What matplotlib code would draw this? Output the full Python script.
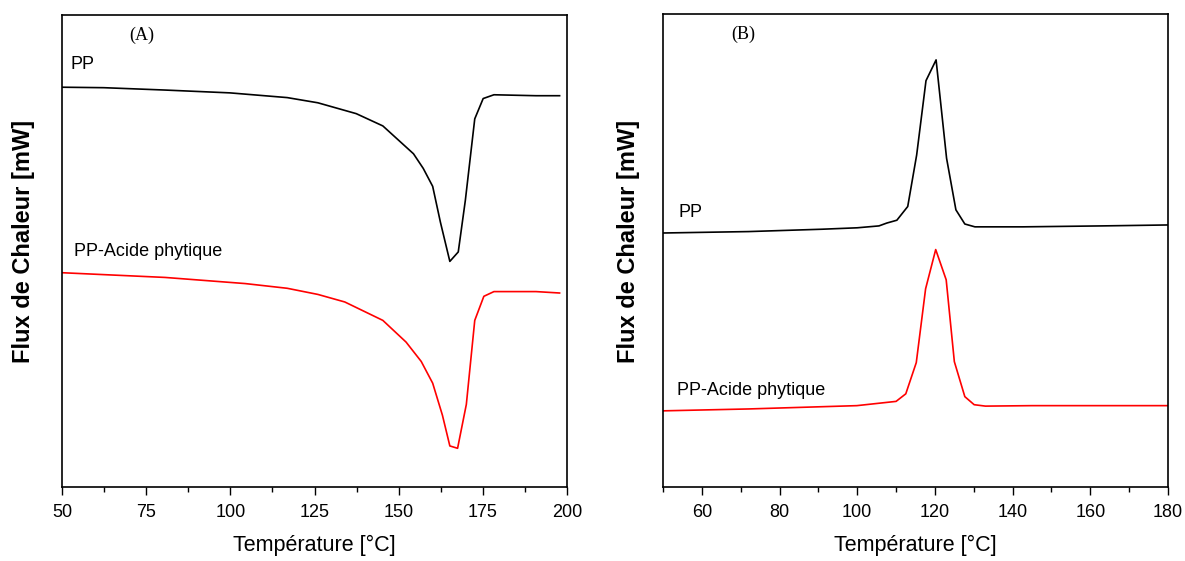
import matplotlib.pyplot as plt
from matplotlib.ticker import MultipleLocator

# (A) melting curves, arbitrary heat flow units
temp_a_pp = [50, 62.4, 80.6, 99.9, 116.9, 126, 137.4, 145.3, 154.4, 157.3, 160.1,
             162.4, 165.2, 167.7, 169.8, 172.6, 175.1, 178.3, 190.8, 197.8]
flux_a_pp = [8.47, 8.46, 8.41, 8.35, 8.25, 8.14, 7.91, 7.65, 7.06, 6.75, 6.37,
             5.61, 4.78, 4.98, 6.07, 7.80, 8.23, 8.31, 8.29, 8.29]
temp_a_pa = [50, 80.6, 104.4, 116.9, 126, 134, 145.3, 152.2, 156.7, 160.1, 163,
             165.2, 167.5, 170.1, 172.6, 175.3, 178.3, 190.8, 197.8]
flux_a_pa = [4.54, 4.44, 4.31, 4.21, 4.08, 3.92, 3.53, 3.07, 2.66, 2.20, 1.52,
             0.87, 0.82, 1.75, 3.53, 4.04, 4.14, 4.14, 4.11]

# (B) crystallisation curves
temp_b_pp = [50, 72, 91, 100, 105.6, 107.6, 110.2, 113, 115.3, 117.7, 120.3,
             123, 125.4, 127.7, 130.3, 142.6, 163, 180]
flux_b_pp = [5.37, 5.40, 5.45, 5.48, 5.52, 5.58, 5.64, 5.93, 7.02, 8.59, 9.03,
             6.95, 5.86, 5.56, 5.50, 5.50, 5.52, 5.54]
temp_b_pa = [50, 72, 99.9, 110, 112.5, 115.2, 117.6, 120.2, 122.9, 125, 127.7,
             130.1, 133, 145, 180]
flux_b_pa = [1.61, 1.65, 1.72, 1.81, 1.97, 2.63, 4.19, 5.02, 4.38, 2.65, 1.91,
             1.74, 1.71, 1.72, 1.72]

fig = plt.figure(figsize=(11.85, 5.61), dpi=100)
ax1 = fig.add_axes([62 / 1185, 74 / 561, 505 / 1185, 472 / 561])
ax2 = fig.add_axes([663 / 1185, 74 / 561, 505 / 1185, 473 / 561])

sans = ['Liberation Sans Narrow', 'Liberation Sans', 'DejaVu Sans']

ax1.plot(temp_a_pp, flux_a_pp, color='black', lw=1.2)
ax1.plot(temp_a_pa, flux_a_pa, color='red', lw=1.2)
ax1.set_xlim(50, 200)
ax1.set_ylim(0, 10)
ax1.xaxis.set_major_locator(MultipleLocator(25))
ax1.xaxis.set_minor_locator(MultipleLocator(12.5))
ax1.text(0.158, 0.957, '(A)', transform=ax1.transAxes, ha='center', va='center',
         family='Liberation Serif', fontsize=13)
ax1.text(52.5, 8.85, 'PP', family=sans, fontsize=13)
ax1.text(53.5, 4.9, 'PP-Acide phytique', family=sans, fontsize=13)

ax2.plot(temp_b_pp, flux_b_pp, color='black', lw=1.2)
ax2.plot(temp_b_pa, flux_b_pa, color='red', lw=1.2)
ax2.set_xlim(50, 180)
ax2.set_ylim(0, 10)
ax2.xaxis.set_major_locator(MultipleLocator(20))
ax2.xaxis.set_minor_locator(MultipleLocator(10))
ax2.text(0.158, 0.957, '(B)', transform=ax2.transAxes, ha='center', va='center',
         family='Liberation Serif', fontsize=13)
ax2.text(54, 5.7, 'PP', family=sans, fontsize=13)
ax2.text(53.5, 1.95, 'PP-Acide phytique', family=sans, fontsize=13)

for ax in (ax1, ax2):
    ax.set_yticks([])
    ax.tick_params(axis='x', which='major', direction='out', length=6, width=1,
                   labelsize=13, pad=6)
    ax.tick_params(axis='x', which='minor', direction='out', length=3.5, width=1)
    for lab in ax.get_xticklabels():
        lab.set_family(sans)
    for sp in ax.spines.values():
        sp.set_linewidth(1.2)
    ax.set_xlabel('Température [°C]', family=sans, fontsize=15.5, labelpad=10)
    ax.set_ylabel('Flux de Chaleur [mW]', family=['Liberation Sans', 'DejaVu Sans'],
                  fontsize=17, fontweight='bold')

ax1.yaxis.set_label_coords(-0.053, 0.52)
ax2.yaxis.set_label_coords(-0.046, 0.52)

fig.savefig('out.png', dpi=100)
